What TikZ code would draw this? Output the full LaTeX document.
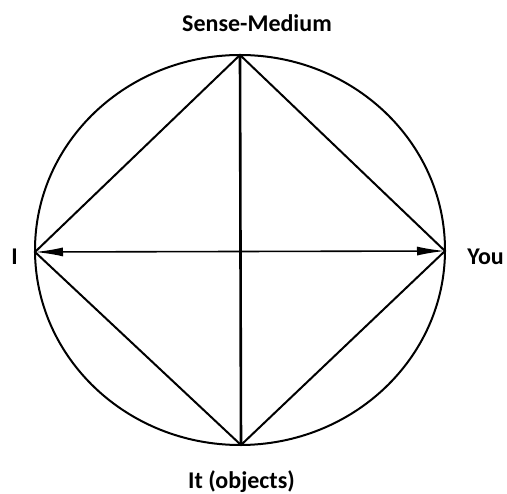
\documentclass[tikz,border=0pt]{standalone}
\usepackage{fontspec}
\setmainfont{Carlito}
\usetikzlibrary{arrows.meta}
\begin{document}
\begin{tikzpicture}[x=1pt,y=-1pt,
  line/.style={line width=2pt,black},
  lab/.style={font=\fontsize{24}{26}\selectfont\bfseries,inner sep=0pt}]
\useasboundingbox (0,0) rectangle (507,494);
\fill[white] (0,0) rectangle (507,494);
\coordinate (C) at (240,250);
\coordinate (T) at (240,55);
\coordinate (B) at (241,445);
\coordinate (L) at (35,252);
\coordinate (R) at (445,251);
\draw[line] (C) ellipse [x radius=205, y radius=195];
\draw[line] (T) -- (L) -- (B) -- (R) -- cycle;
\draw[line width=2.6pt] (T) -- (B);
\draw[line width=1.6pt,{Latex[length=28pt,width=9pt]}-{Latex[length=28pt,width=9pt]}] (L) -- (R);
\node[lab,anchor=base] (sm) at (257,32) {Sense-Medium};
\node[lab,anchor=base] (it) at (241.5,489) {It (objects)};
\node[lab,anchor=base] (i) at (14.5,265) {I};
\node[lab,anchor=base east] (you) at (504,265) {You};
\end{tikzpicture}
\end{document}
